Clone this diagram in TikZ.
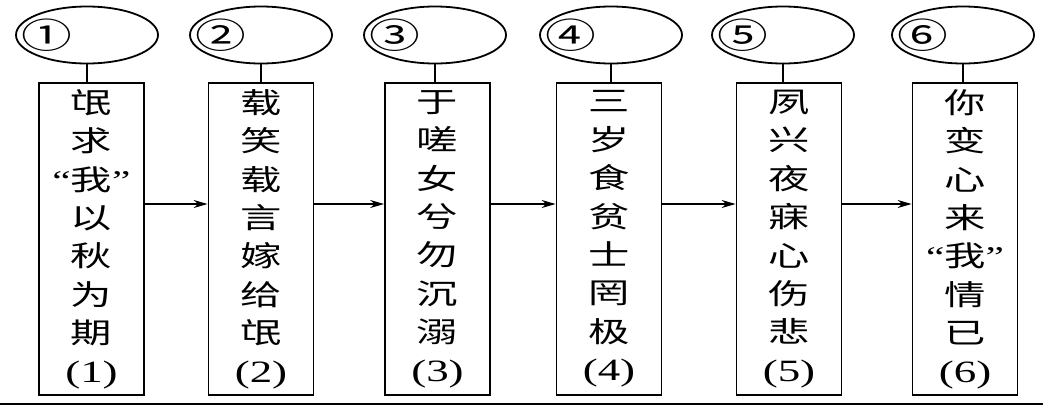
\documentclass[tikz,border=0pt]{standalone}
\usepackage{fontspec}
\usetikzlibrary{shapes.geometric, arrows.meta, positioning}
\newfontfamily\cjk[FakeStretch=1.45]{Noto Sans CJK SC}
\newfontfamily\numf[FakeStretch=1.45]{Liberation Serif}
\newcommand{\qt}[1]{{\numf “}#1{\numf ”}}
\newcommand{\pnum}[1]{{\numf\fontsize{31}{38.4}\selectfont (#1)}}
\tikzset{
	oval/.style ={ellipse, draw=black, line width=1.8pt, minimum width=142pt, minimum height=57pt, inner sep=0pt},
	cnum/.style ={inner sep=0pt, font=\cjk\fontsize{35}{35}\selectfont},
	stage/.style={rectangle, draw=black, line width=1.8pt, minimum width=105pt, minimum height=312pt, align=center, inner sep=0pt, font=\cjk\fontsize{28.5}{38.4}\selectfont},
	stem/.style ={line width=1.6pt},
	flow/.style ={-{Stealth[length=14pt, width=8pt]}, line width=1.3pt},
}
\begin{document}
\begin{tikzpicture}[x=1pt, y=-1pt]
	\useasboundingbox (0,0) rectangle (1043,407);
	% ovals on top
	\node[oval] (e1) at (87,35) {};
	\node[oval] (e2) at (261,35) {};
	\node[oval] (e3) at (435,35) {};
	\node[oval] (e4) at (611,35) {};
	\node[oval] (e5) at (783,35) {};
	\node[oval] (e6) at (963,35) {};
	\node[cnum, right=6pt of e1.west] (n1) {①};
	\node[cnum, right=6pt of e2.west] (n2) {②};
	\node[cnum, right=6pt of e3.west] (n3) {③};
	\node[cnum, right=6pt of e4.west] (n4) {④};
	\node[cnum, right=6pt of e5.west] (n5) {⑤};
	\node[cnum, right=6pt of e6.west] (n6) {⑥};
	% stages
	\node[stage] (b1) at (91.5,239) {氓\\求\\\qt{我}\\以\\秋\\为\\期\\\pnum{1}};
	\node[stage] (b2) at (261,239)  {载\\笑\\载\\言\\嫁\\给\\氓\\\pnum{2}};
	\node[stage] (b3) at (437.5,239) {于\\嗟\\女\\兮\\勿\\沉\\溺\\\pnum{3}};
	\node[stage] (b4) at (609,239)  {三\\岁\\食\\贫\\士\\罔\\极\\\pnum{4}};
	\node[stage] (b5) at (789,239)  {夙\\兴\\夜\\寐\\心\\伤\\悲\\\pnum{5}};
	\node[stage] (b6) at (965,239)  {你\\变\\心\\来\\\qt{我}\\情\\已\\\pnum{6}};
	% stems
	\draw[stem] (e1.south) -- (e1.south |- b1.north);
	\draw[stem] (e2.south) -- (e2.south |- b2.north);
	\draw[stem] (e3.south) -- (e3.south |- b3.north);
	\draw[stem] (e4.south) -- (e4.south |- b4.north);
	\draw[stem] (e5.south) -- (e5.south |- b5.north);
	\draw[stem] (e6.south) -- (e6.south |- b6.north);
	% arrows
	\draw[flow] ([yshift=35pt]b1.east) -- ([yshift=35pt]b2.west);
	\draw[flow] ([yshift=35pt]b2.east) -- ([yshift=35pt]b3.west);
	\draw[flow] ([yshift=35pt]b3.east) -- ([yshift=35pt]b4.west);
	\draw[flow] ([yshift=35pt]b4.east) -- ([yshift=35pt]b5.west);
	\draw[flow] ([yshift=35pt]b5.east) -- ([yshift=35pt]b6.west);
	% base rule
	\draw[line width=2pt] (0,404) -- (1043,404);
\end{tikzpicture}
\end{document}
